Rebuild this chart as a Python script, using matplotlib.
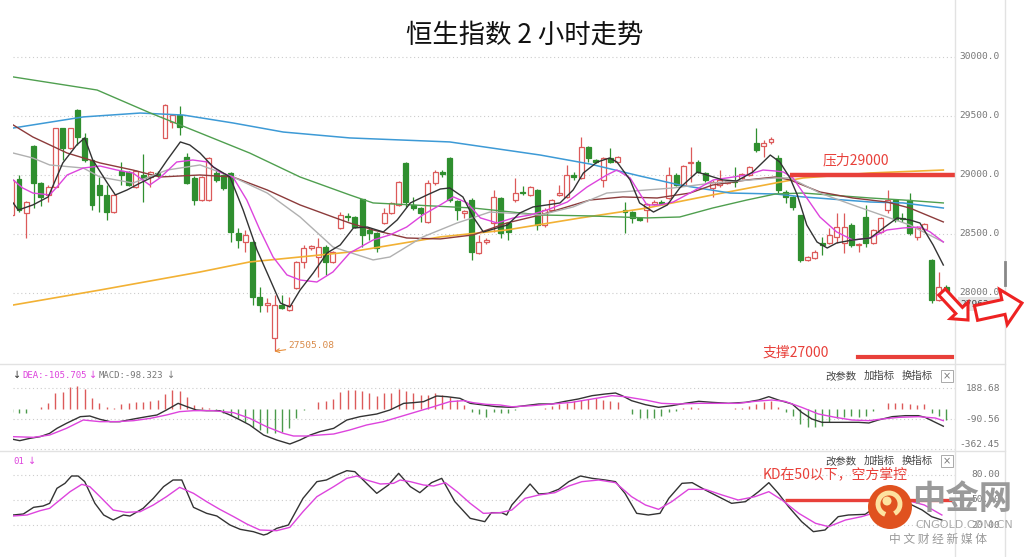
"""Hang Seng index, 2-hour candles with moving averages, MACD and KD panels."""

import matplotlib

matplotlib.use("Agg")
import matplotlib.pyplot as plt
import matplotlib.transforms as mtransforms
from matplotlib.lines import Line2D
from matplotlib.patches import Arc, Circle, FancyArrow, Rectangle

plt.rcParams["font.family"] = ["Noto Sans CJK SC", "DejaVu Sans"]

W, H = 1024, 557

# --- 2h candles, oldest first
opens = [
    28661, 28966, 28678, 29246, 28932, 28831, 28898, 29398, 29229, 29551,
    29314, 29127, 28915, 28831, 28686, 29030, 29025, 28898, 29000, 28983,
    29020, 29314, 29449, 29508, 29152, 28975, 28788, 28788, 29017, 29000,
    29017, 28508, 28432, 28432, 27966, 27898, 27619, 27898, 27856, 28042,
    28263, 28380, 28305, 28390, 28263, 28551, 28650, 28644, 28797, 28534,
    28508, 28593, 28678, 28746, 29102, 28746, 28720, 28602, 28932, 29025,
    29144, 28780, 28678, 28788, 28339, 28432, 28593, 28805, 28593, 28788,
    28856, 28831, 28873, 28576, 28703, 28831, 28814, 29000, 28975, 29237,
    29127, 28958, 29144, 29110, 28703, 28686, 28636, 28703, 28754, 28771,
    28805, 29000, 28915, 29102, 29110, 29017, 28890, 28915, 28932, 28949,
    28975, 29000, 29271, 29246, 29280, 29144, 28856, 28814, 28661, 28280,
    28297, 28424, 28424, 28475, 28424, 28576, 28407, 28644, 28424, 28517,
    28703, 28788, 28636, 28788, 28475, 28542, 28280, 27941, 28051,
]
highs = [
    28970, 29000, 28780, 29250, 28940, 28915, 29400, 29400, 29400, 29560,
    29356, 29130, 28983, 28915, 28840, 29110, 29030, 29040, 29178, 29030,
    29030, 29600, 29520, 29585, 29186, 28990, 28990, 29150, 29042, 29010,
    29025, 28550, 28534, 28440, 28051, 27958, 27983, 27983, 27966, 28270,
    28407, 28410, 28466, 28407, 28355, 28686, 28678, 28650, 28800, 28559,
    28515, 28720, 28770, 28950, 29110, 28814, 28730, 28958, 29042, 29042,
    29150, 28790, 28703, 28805, 28492, 28466, 28873, 28815, 28600, 28975,
    28907, 28905, 28880, 28720, 28795, 28915, 29085, 29025, 29322, 29245,
    29135, 29150, 29229, 29160, 28771, 28695, 28645, 28763, 28790, 28790,
    29068, 29017, 29085, 29237, 29127, 29025, 28958, 29042, 28958, 29068,
    29015, 29075, 29398, 29297, 29322, 29169, 28873, 28820, 28665, 28310,
    28364, 28475, 28551, 28678, 28678, 28593, 28425, 28746, 28540, 28645,
    28873, 28795, 28678, 28847, 28568, 28593, 28285, 28178, 28068,
]
lows = [
    28650, 28686, 28466, 28720, 28740, 28771, 28890, 29127, 29220, 29254,
    29110, 28703, 28686, 28619, 28680, 28915, 28905, 28890, 28771, 28898,
    28983, 29310, 29398, 29339, 28920, 28746, 28780, 28780, 28940, 28870,
    28432, 28381, 28347, 27898, 27840, 27840, 27505, 27865, 27850, 28035,
    28212, 28360, 28136, 28153, 28255, 28545, 28610, 28550, 28390, 28449,
    28347, 28585, 28670, 28740, 28729, 28703, 28602, 28593, 28915, 28983,
    28771, 28619, 28636, 28280, 28330, 28415, 28517, 28466, 28449, 28771,
    28831, 28825, 28534, 28559, 28695, 28825, 28805, 28958, 28970, 29110,
    29100, 28898, 29100, 29100, 28508, 28593, 28610, 28602, 28745, 28745,
    28800, 28905, 28905, 28941, 29017, 28941, 28814, 28898, 28925, 28898,
    28970, 28995, 29195, 29152, 29263, 28847, 28763, 28703, 28263, 28275,
    28290, 28322, 28415, 28424, 28339, 28390, 28347, 28390, 28415, 28510,
    28678, 28602, 28602, 28492, 28449, 28517, 27915, 27935, 27983,
]
closes = [
    28958, 28703, 28771, 28932, 28814, 28898, 29398, 29229, 29398, 29322,
    29127, 28746, 28831, 28686, 28831, 29000, 28915, 29034, 28975, 29025,
    29000, 29593, 29508, 29407, 28932, 28788, 28983, 29144, 28958, 28890,
    28517, 28449, 28492, 27966, 27898, 27915, 27898, 27873, 27898, 28263,
    28381, 28395, 28390, 28263, 28347, 28661, 28640, 28559, 28492, 28508,
    28381, 28678, 28763, 28941, 28771, 28720, 28678, 28932, 29025, 29008,
    28788, 28703, 28695, 28347, 28432, 28449, 28814, 28508, 28517, 28847,
    28847, 28898, 28576, 28703, 28788, 28847, 29000, 28983, 29237, 29144,
    29110, 29144, 29110, 29152, 28686, 28636, 28619, 28754, 28771, 28754,
    29000, 28915, 29076, 29110, 29025, 28958, 28941, 28958, 28949, 28941,
    29008, 29068, 29212, 29271, 29305, 28873, 28814, 28729, 28280, 28305,
    28347, 28407, 28492, 28559, 28559, 28407, 28415, 28424, 28534, 28636,
    28788, 28619, 28627, 28508, 28551, 28585, 27941, 28051, 27963,
]
last_price = 27962.9
low_mark = 27505.08

# --- moving averages (candle index, price)
ma5_x = [0.2, 0.9, 2.9, 5.0, 7.0, 8.9, 10.0, 11.1, 13.1, 14.2, 15.8, 17.6, 19.9,
         21.3, 23.1, 24.4, 25.8, 27.6, 29.9, 31.7, 33.6, 35.0, 36.8, 38.1, 39.5,
         41.3, 43.2, 45.0, 46.8, 48.7, 50.9, 52.8, 54.6, 56.9, 58.7, 60.0, 61.8,
         63.2, 64.6, 66.5, 67.9, 69.6, 71.4, 73.3, 75.1, 76.9, 78.3, 80.2, 81.9,
         82.9, 84.7, 86.0, 87.9, 89.8, 91.5, 93.9, 95.2, 97.4, 99.3, 101.5, 103.9,
         105.2, 106.6, 107.6, 108.9, 110.3, 111.7, 113.0, 115.2, 117.6, 119.4,
         121.3, 123.0, 124.4, 126.2, 127.6]
ma5_y = [28763, 28703, 28746, 28814, 29102, 29254, 29314, 29127, 28932, 28831,
         28873, 28932, 29000, 29127, 29280, 29254, 29186, 29068, 28983, 28703,
         28364, 28169, 27915, 27881, 28025, 28169, 28339, 28407, 28551, 28559,
         28517, 28619, 28763, 28831, 28881, 28890, 28814, 28644, 28517, 28551,
         28576, 28678, 28729, 28746, 28763, 28873, 29017, 29110, 29144, 29110,
         28958, 28763, 28686, 28746, 28890, 29025, 29000, 28958, 28949, 29025,
         29169, 29110, 28975, 28831, 28576, 28432, 28381, 28424, 28449, 28466,
         28551, 28636, 28619, 28593, 28407, 28237]
ma10_x = [0.2, 1.5, 2.9, 5.2, 6.2, 7.6, 9.8, 12.1, 14.4, 16.6, 18.9, 20.3, 22.6,
          24.8, 26.8, 28.5, 30.3, 32.2, 34.0, 35.8, 37.7, 39.5, 41.8, 44.0, 46.3,
          49.5, 51.8, 54.1, 56.3, 58.7, 60.5, 62.4, 64.2, 66.5, 68.7, 71.0, 73.3,
          76.1, 78.8, 81.5, 82.9, 84.7, 87.0, 88.8, 90.6, 92.9, 96.1, 100.7,
          102.9, 104.6, 105.7, 107.0, 108.9, 110.7, 113.0, 115.2, 117.6, 119.9,
          122.1, 124.4, 125.8, 127.6]
ma10_y = [28958, 28890, 28847, 28831, 28898, 29000, 29059, 29076, 29042, 29017,
          28915, 28975, 29110, 29127, 29110, 29025, 28983, 28788, 28534, 28305,
          28153, 28110, 28093, 28178, 28339, 28449, 28492, 28559, 28661, 28746,
          28814, 28763, 28636, 28593, 28636, 28661, 28703, 28771, 28898, 29000,
          29042, 28975, 28746, 28746, 28771, 28847, 28958, 29000, 29042, 29034,
          29025, 28975, 28805, 28644, 28517, 28449, 28466, 28534, 28551, 28559,
          28517, 28432]
ma20_x = [0.2, 2.9, 5.2, 9.8, 12.1, 16.6, 21.3, 25.8, 30.3, 35.0, 39.5, 44.0,
          49.5, 51.8, 56.3, 61.0, 65.5, 72.4, 76.9, 81.5, 90.6, 96.0, 104.6,
          106.6, 110.7, 115.2, 119.9, 123.0, 127.6]
ma20_y = [29186, 29144, 29085, 29059, 28983, 28932, 29042, 29085, 28983, 28847,
          28644, 28390, 28280, 28305, 28475, 28593, 28686, 28661, 28729, 28847,
          28890, 28932, 28975, 28975, 28847, 28746, 28644, 28576, 28432]
ma30_x = [0.2, 2.9, 7.6, 12.1, 16.6, 20.3, 25.8, 30.3, 35.0, 39.5, 44.0, 46.3,
          49.5, 54.1, 58.7, 63.2, 67.8, 72.4, 79.2, 83.7, 88.4, 92.9, 96.0,
          100.7, 104.6, 106.6, 110.7, 115.2, 119.9, 123.0, 127.6]
ma30_y = [29424, 29322, 29186, 29102, 29042, 28983, 29000, 28983, 28873, 28746,
          28644, 28593, 28534, 28466, 28458, 28492, 28593, 28661, 28788, 28814,
          28805, 28847, 28915, 28958, 28983, 28958, 28856, 28805, 28771, 28720,
          28602]
ma60_x = [0.2, 11.7, 19.0, 25.8, 32.6, 39.5, 46.3, 49.5, 63.2, 72.4, 79.2, 87.0,
          91.5, 96.0, 100.7, 104.6, 108.4, 117.6, 122.1, 127.6]
ma60_y = [29831, 29720, 29525, 29356, 29186, 28983, 28831, 28763, 28720, 28661,
          28653, 28636, 28644, 28720, 28788, 28839, 28847, 28805, 28788, 28763]
ma120_x = [0.2, 9.8, 17.6, 23.5, 30.3, 37.2, 46.3, 60.0, 72.4, 79.2, 86.0, 91.5,
           98.4, 104.6, 108.4, 117.6, 122.1, 127.6]
ma120_y = [29398, 29492, 29525, 29508, 29441, 29364, 29314, 29280, 29169, 29093,
           28992, 28915, 28847, 28839, 28814, 28771, 28763, 28720]
ma250_x = [0.2, 12.1, 25.8, 32.6, 39.5, 46.3, 58.7, 67.8, 77.9, 87.0, 96.0,
           104.6, 108.4, 117.6, 127.6]
ma250_y = [27898, 28025, 28178, 28263, 28305, 28347, 28475, 28534, 28636, 28720,
           28831, 28932, 28975, 29017, 29042]

price_ticks = [30000.0, 29500.0, 29000.0, 28500.0, 28000.0]
resistance = 29000

# --- MACD panel
macd_hist = [
    -30, -35, -33, 3, 21, 51, 141, 156, 201, 207,
    177, 96, 57, 21, 12, 45, 51, 66, 66, 75,
    81, 135, 171, 165, 111, 36, 21, 6, -6, -39,
    -54, -84, -114, -159, -189, -213, -219, -204, -174, -84,
    -9, 3, 66, 75, 87, 156, 171, 171, 165, 141,
    117, 141, 147, 177, 165, 147, 126, 126, 141, 126,
    105, 81, 36, -24, -45, -69, -24, -33, -33, -9,
    3, 3, 3, 6, 30, 45, 51, 69, 81, 90,
    99, 81, 69, 60, 3, -45, -81, -81, -81, -60,
    -30, -15, 9, 21, 6, 3, 3, 3, 3, 6,
    6, 24, 45, 60, 75, 21, -30, -60, -135, -165,
    -165, -150, -120, -81, -69, -60, -69, -60, -21, 0,
    51, 51, 51, 45, 39, 45, -39, -60, -98,
]
dif_x = [0.2, 1.1, 2.5, 3.9, 5.2, 6.2, 7.5, 9.4, 10.7, 12.1, 13.5, 14.8, 16.7,
         18.5, 19.9, 21.2, 22.8, 24.0, 25.3, 26.7, 28.5, 29.9, 31.3, 32.6, 34.5,
         36.3, 38.1, 39.5, 40.9, 42.2, 44.1, 45.9, 47.7, 50.0, 51.8, 53.7, 55.0,
         56.4, 58.2, 59.6, 61.4, 62.8, 64.6, 66.4, 68.5, 70.3, 72.2, 74.0, 75.8,
         77.6, 79.5, 81.3, 82.7, 83.6, 84.9, 86.8, 88.6, 90.4, 92.2, 94.1, 95.9,
         98.2, 100.5, 102.3, 103.7, 105.0, 106.9, 108.2, 109.6, 111.0, 112.8,
         114.2, 116.0, 117.4, 118.7, 120.6, 122.4, 124.2, 125.1, 126.5, 127.6]
dif_y = [-273, -285, -264, -249, -219, -174, -129, -69, -63, -93, -114, -114,
         -90, -69, -54, -9, 51, 21, -9, -15, -15, -54, -99, -144, -234, -279,
         -315, -279, -234, -204, -174, -99, -69, -45, -9, 51, 57, 66, 117, 111,
         96, 51, 36, 21, 15, 30, 45, 45, 69, 90, 120, 135, 144, 120, 75, 39, 15,
         30, 51, 69, 60, 51, 60, 81, 111, 81, 45, -30, -90, -120, -120, -120,
         -120, -126, -99, -69, -60, -60, -75, -120, -155]
dea_x = [0.2, 3.0, 5.2, 7.5, 9.8, 12.1, 14.4, 16.7, 19.0, 21.2, 23.0, 24.9,
         27.6, 30.4, 32.6, 34.9, 37.2, 38.6, 40.4, 42.2, 44.1, 46.3, 48.6, 50.9,
         53.2, 55.5, 57.8, 60.0, 61.9, 63.2, 65.0, 66.9, 68.5, 71.2, 74.0, 76.7,
         79.5, 82.2, 84.0, 86.8, 89.0, 91.3, 94.1, 96.8, 99.5, 101.8, 104.1,
         105.9, 108.2, 110.5, 112.8, 115.1, 117.4, 119.2, 121.5, 124.2, 126.5,
         127.6]
dea_y = [-249, -255, -234, -174, -99, -114, -114, -105, -84, -54, -24, -15, -15,
         -33, -84, -159, -219, -243, -243, -234, -225, -189, -144, -114, -69,
         -24, 21, 66, 75, 57, 42, 36, 20, 30, 45, 60, 90, 120, 111, 81, 51, 45,
         51, 51, 51, 69, 81, 69, 15, -45, -75, -99, -105, -90, -75, -69, -81,
         -105]
macd_ticks = [188.68, -90.56, -362.45]

# --- KD panel
k_x = [0.2, 1.6, 3.0, 4.3, 5.2, 6.2, 7.3, 8.2, 9.1, 10.0, 11.4, 12.6, 13.9, 15.3,
       16.2, 18.0, 19.4, 20.8, 22.1, 23.3, 24.9, 26.7, 28.1, 29.9, 31.3, 33.1,
       34.5, 35.0, 36.3, 37.9, 39.9, 41.8, 43.1, 44.5, 45.9, 47.0, 48.6, 50.0,
       51.6, 53.0, 54.6, 55.9, 57.5, 58.9, 60.7, 62.8, 64.8, 65.7, 67.1, 67.8,
       68.5, 69.9, 71.0, 72.2, 73.5, 74.9, 76.3, 77.9, 79.5, 81.3, 82.7, 84.0,
       85.6, 87.2, 88.8, 90.0, 91.8, 93.2, 95.0, 96.8, 98.6, 100.5, 102.3,
       103.7, 105.0, 106.4, 108.2, 109.8, 111.4, 113.2, 114.6, 116.9, 118.7,
       120.6, 121.9, 123.3, 124.7, 126.0, 127.4]
k_y = [32, 33.2, 41.2, 42.8, 46, 64, 70, 78.8, 78.8, 72, 46, 32, 26, 32, 30.8,
       40, 52, 66, 74, 74, 41.2, 34, 30.8, 20, 14.8, 12, 8, 9.2, 16, 20, 52, 72,
       74, 80, 85.2, 84, 70, 58, 68, 82, 66, 58.8, 70.8, 76, 48, 28, 24, 34.8,
       34.8, 32, 44, 58, 69.2, 57.2, 58, 62.8, 72, 78.8, 76, 74, 72, 58, 34, 32,
       34, 52, 70, 70.8, 62, 54, 46, 48, 60, 70.8, 58, 42, 24, 12, 14, 30, 32,
       32.8, 44, 54, 54.8, 44, 38, 30, 26]
d_x = [0.2, 2.1, 3.9, 5.2, 6.6, 8.0, 9.6, 10.7, 12.1, 13.9, 15.7, 17.6, 19.4,
       21.2, 23.0, 24.9, 26.7, 28.5, 30.4, 32.2, 34.0, 36.3, 38.1, 39.9, 41.8,
       44.1, 45.9, 47.3, 48.6, 50.5, 52.3, 53.2, 54.6, 56.4, 57.8, 59.4, 61.0,
       62.8, 64.6, 66.9, 68.5, 70.3, 72.2, 74.4, 76.3, 78.1, 80.4, 82.7, 84.9,
       86.8, 88.6, 90.4, 92.7, 95.0, 97.3, 99.5, 101.8, 103.7, 105.5, 107.8,
       110.1, 111.9, 114.2, 116.4, 118.7, 121.0, 123.3, 125.0, 127.4]
d_y = [30.8, 32, 37.2, 40, 50, 60, 68.8, 66, 54, 38, 35.2, 36, 44, 54, 65.2, 58,
       48, 38.8, 30, 21.2, 14, 13.2, 17.2, 36, 54, 66, 76, 78.8, 74, 69.2, 70,
       74, 72, 68, 66.8, 70.8, 60, 46, 34, 34.8, 38, 52, 56, 58.8, 66.8, 72, 74,
       70.8, 54, 44, 38.8, 48, 62.8, 62.8, 56, 50, 54, 60, 50, 34, 22, 18, 26,
       30, 36, 46, 48, 44, 32]
kd_ticks = [80.0, 50.0, 20.0]

UP = "#dc5a5a"
DOWN = "#2f8f2f"
MARK = "#e8403a"
GRID = "#cccccc"
LINE = "#e2e2e2"
MAGENTA = "#dd44dd"
XLIM = (0.18, 129.2)

fig = plt.figure(figsize=(W / 100, H / 100), dpi=100)


def px_axes(x0, y0, x1, y1):
    """Axes from a pixel box, origin top-left."""
    a = fig.add_axes([x0 / W, 1 - y1 / H, (x1 - x0) / W, (y1 - y0) / H])
    a.set_xlim(*XLIM)
    a.set_xticks([])
    a.set_yticks([])
    for s in a.spines.values():
        s.set_visible(False)
    return a


def ftext(x, y, s, **kw):
    kw.setdefault("va", "center")
    fig.text(x / W, 1 - y / H, s, **kw)


def right_labels(a, values, texts, **kw):
    tr = mtransforms.blended_transform_factory(fig.transFigure, a.transData)
    for v, t in zip(values, texts):
        a.text(1000 / W, v, t, transform=tr, ha="right", fontsize=6.8,
               color="#777777", family="DejaVu Sans Mono", **kw)


def grid(a, values):
    for v in values:
        a.axhline(v, color=GRID, lw=0.8, ls=(0, (1, 2.5)), zorder=0)


# Main price panel
ax = px_axes(13, 0, 955, 362)
ax.set_ylim(27415, 30483)
grid(ax, price_ticks)

for i, (o, h, l, c) in enumerate(zip(opens, highs, lows, closes)):
    up = c >= o
    col = UP if up else DOWN
    ax.vlines(i, l, h, color=col, lw=0.9, zorder=2)
    ax.add_patch(Rectangle((i - 0.34, min(o, c)), 0.68, max(abs(c - o), 6),
                           facecolor="white" if up else col, edgecolor=col,
                           lw=0.9, zorder=2.5))

for xs, ys, col, lw in [
    (ma250_x, ma250_y, "#f2b134", 1.2),
    (ma120_x, ma120_y, "#3d9ad6", 1.1),
    (ma60_x, ma60_y, "#4f9f4f", 1.0),
    (ma30_x, ma30_y, "#8c3b3b", 1.0),
    (ma20_x, ma20_y, "#b0b0b0", 1.0),
    (ma10_x, ma10_y, MAGENTA, 1.0),
    (ma5_x, ma5_y, "#333333", 1.0),
]:
    ax.plot(xs, ys, color=col, lw=lw, zorder=3)

right_labels(ax, price_ticks, [f"{v:.1f}" for v in price_ticks], va="center")
box_tr = mtransforms.offset_copy(
    mtransforms.blended_transform_factory(fig.transFigure, ax.transData),
    fig=fig, x=0, y=-7, units="dots")
ax.text(1001 / W, last_price, f"{last_price:.1f}", transform=box_tr, ha="right",
        va="center", fontsize=6.8, color="#444444", family="DejaVu Sans Mono",
        bbox=dict(boxstyle="square,pad=0.25", fc="#e4e4e4", ec="none"), zorder=6)

ax.annotate(f"{low_mark:.2f}", xy=(36, low_mark), xytext=(10, 4),
            textcoords="offset points", ha="left", va="center", fontsize=6.8,
            color="#d98b4a", family="DejaVu Sans Mono",
            arrowprops=dict(arrowstyle="->", color="#e8903c", lw=0.8,
                            shrinkA=0, shrinkB=0))

# resistance / support marks
ax.hlines(resistance, 106.6, XLIM[1], color=MARK, lw=3.2, zorder=5)
ax.text(111.1, resistance + 125, "压力29000", color=MARK, fontsize=10,
        ha="left", va="center", zorder=6)
sup_tr = mtransforms.blended_transform_factory(ax.transData, ax.transAxes)
ax.plot([115.9, 128.8], [0.014, 0.014], color=MARK, lw=3.0, transform=sup_tr,
        clip_on=False, zorder=5)
ax.text(102.8, 0.025, "支撑27000", color=MARK, fontsize=10, ha="left",
        va="center", transform=sup_tr)

ftext(525, 35, "恒生指数 2 小时走势", fontsize=19, ha="center", color="#111111")

# MACD panel
mx = px_axes(13, 364, 955, 451)
mx.set_ylim(-378, 405)
grid(mx, macd_ticks)
for i, v in enumerate(macd_hist):
    if v != 0:
        mx.vlines(i, 0, v, color=UP if v > 0 else "#4c9a4c", lw=1.0, zorder=2)
mx.plot(dif_x, dif_y, color="#333333", lw=1.0, zorder=3)
mx.plot(dea_x, dea_y, color=MAGENTA, lw=1.0, zorder=3)
right_labels(mx, macd_ticks[:2], ["188.68", "-90.56"], va="center")
right_labels(mx, macd_ticks[2:], ["-362.45"], va="bottom")

ftext(13, 375, "↓", fontsize=7, color="#333333", family="DejaVu Sans")
ftext(22, 375, "DEA:-105.705", fontsize=6.5, color=MAGENTA,
      family="DejaVu Sans Mono")
ftext(89, 375, "↓", fontsize=7, color=MAGENTA, family="DejaVu Sans")
ftext(99, 375, "MACD:-98.323", fontsize=6.5, color="#777777",
      family="DejaVu Sans Mono")
ftext(167, 375, "↓", fontsize=7, color="#777777", family="DejaVu Sans")

# KD panel
kx = px_axes(13, 451, 955, 545)
kx.set_ylim(-4, 108.8)
grid(kx, kd_ticks)
kx.plot(k_x, k_y, color="#333333", lw=1.0, zorder=3)
kx.plot(d_x, d_y, color=MAGENTA, lw=1.0, zorder=3)
kx.hlines(50, 105.9, 128.8, color=MARK, lw=2.4, zorder=4)
right_labels(kx, kd_ticks, [f"{v:.2f}" for v in kd_ticks], va="center")
ftext(13, 461, "01", fontsize=6.5, color=MAGENTA, family="DejaVu Sans Mono")
ftext(28, 461, "↓", fontsize=7, color=MAGENTA, family="DejaVu Sans")
ftext(763, 474, "KD在50以下，空方掌控", fontsize=10, color=MARK)

# indicator toolbar
for y in (376, 461):
    ftext(825, y, "改参数", fontsize=7.5, color="#444444")
    ftext(864, y, "加指标", fontsize=7.5, color="#444444")
    ftext(902, y, "换指标", fontsize=7.5, color="#444444")
    ftext(947, y, "×", fontsize=7, color="#777777", ha="center",
          family="DejaVu Sans",
          bbox=dict(boxstyle="square,pad=0.15", fc="white", ec="#aaaaaa", lw=0.7))

# panel frame lines
ident = mtransforms.IdentityTransform()
for (x0, y0, x1, y1, col, lw) in [
    (955, 0, 955, H, LINE, 1.0),
    (1005, 0, 1005, H, LINE, 1.0),
    (0, 364, 1005, 364, LINE, 1.0),
    (0, 451, 1005, 451, LINE, 1.0),
    (1005, 262, 1005, 285, "#888888", 2.0),
]:
    fig.add_artist(Line2D([x0, x1], [H - y0, H - y1], color=col, lw=lw,
                          transform=ident))

# watermark logo
fig.add_artist(Circle((890, H - 507), 22, fc="#e0521f", ec="none",
                      transform=ident, zorder=8))
fig.add_artist(Arc((889, H - 504), 22, 22, theta1=-60, theta2=250,
                   color="#fde3a0", lw=3.5, transform=ident, zorder=9))
fig.add_artist(Circle((887, H - 501), 4.5, fc="#fde3a0", ec="none",
                      transform=ident, zorder=9))
ftext(962, 500, "中金网", fontsize=24, color="#9a9a9a", ha="center",
      fontweight="bold", zorder=9)
ftext(964, 525, "CNGOLD.COM.CN", fontsize=8, color="#aaaaaa", ha="center",
      family="DejaVu Sans", zorder=9)
ftext(938, 539, "中 文 财 经 新 媒 体", fontsize=8.5, color="#999999",
      ha="center", zorder=9)

# direction arrows
for (x, y, dx, dy, w, hw, hl) in [
    (942, 292, 26, 28, 9, 24, 13),
    (976, 313, 46, -10, 15, 36, 19),
]:
    fig.add_artist(FancyArrow(x, H - y, dx, -dy, width=w, head_width=hw,
                              head_length=hl, length_includes_head=True,
                              fill=True, fc="white", ec="#ee2222", lw=2.2,
                              transform=ident, zorder=10))

fig.savefig("out.png", dpi=100)
plt.close(fig)
